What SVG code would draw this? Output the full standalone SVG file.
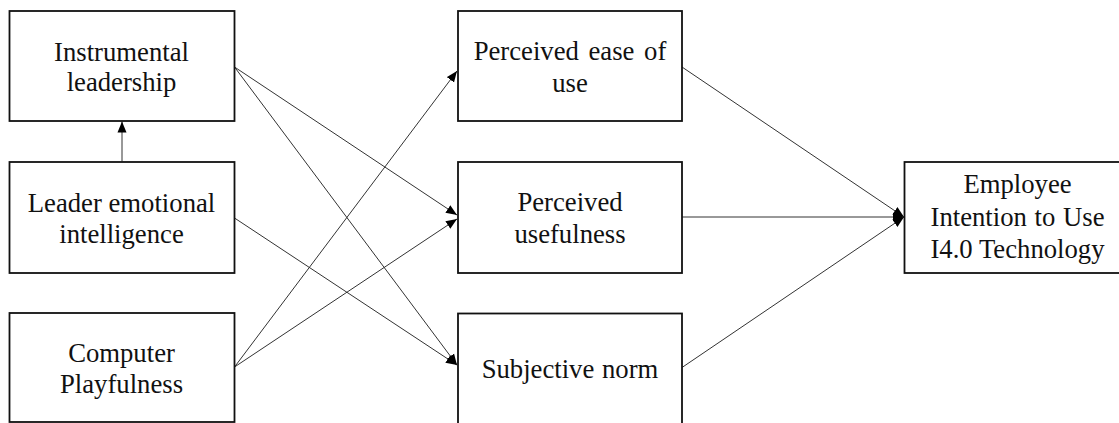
<svg xmlns="http://www.w3.org/2000/svg" width="1119" height="423" viewBox="0 0 1119 423">
<style>
.box{fill:#fff;stroke:#111;stroke-width:1.8}
.lbl{font-family:"Liberation Serif","Times New Roman",serif;font-size:26.7px;fill:#111;text-anchor:middle}
.edge{stroke:#333;stroke-width:1;fill:none;marker-end:url(#ah)}
</style>
<defs>
<marker id="ah" markerUnits="userSpaceOnUse" markerWidth="12" markerHeight="10" refX="11" refY="5" orient="auto">
<path d="M0,0.5 L11,5 L0,9.5 Z" fill="#000"/>
</marker>
</defs>
<rect width="1119" height="423" fill="#fff"/>
<g id="connectors">
<line class="edge" x1="122" y1="161.5" x2="122" y2="121.5"/>
<line class="edge" x1="234.5" y1="67" x2="457" y2="215"/>
<line class="edge" x1="234.5" y1="67" x2="457" y2="365"/>
<line class="edge" x1="234.5" y1="218" x2="457" y2="365"/>
<line class="edge" x1="234.5" y1="367" x2="457" y2="71"/>
<line class="edge" x1="234.5" y1="367" x2="457" y2="219"/>
<line class="edge" x1="682" y1="67" x2="904" y2="217"/>
<line class="edge" x1="682" y1="217" x2="904" y2="217"/>
<line class="edge" x1="682" y1="367.5" x2="904" y2="217"/>
</g>
<g id="n_il">
<rect class="box" x="9.5" y="11" width="225" height="110"/>
<text class="lbl" x="121.5" y="61">Instrumental</text>
<text class="lbl" x="121.5" y="91">leadership</text>
</g>
<g id="n_lei">
<rect class="box" x="9.5" y="162" width="225" height="111"/>
<text class="lbl" x="121.5" y="212">Leader emotional</text>
<text class="lbl" x="121.5" y="243">intelligence</text>
</g>
<g id="n_cp">
<rect class="box" x="9.5" y="313" width="225" height="109"/>
<text class="lbl" x="121.5" y="362">Computer</text>
<text class="lbl" x="121.5" y="393">Playfulness</text>
</g>
<g id="n_peou">
<rect class="box" x="458" y="11" width="224" height="110"/>
<text class="lbl" x="570" y="60" word-spacing="3">Perceived ease of</text>
<text class="lbl" x="570" y="91.5">use</text>
</g>
<g id="n_pu">
<rect class="box" x="458" y="162" width="224" height="111"/>
<text class="lbl" x="570" y="211">Perceived</text>
<text class="lbl" x="570" y="243">usefulness</text>
</g>
<g id="n_sn">
<rect class="box" x="458" y="313.5" width="224" height="120"/>
<text class="lbl" x="570" y="378" word-spacing="1">Subjective norm</text>
</g>
<g id="n_emp">
<rect class="box" x="904.5" y="162" width="227" height="111"/>
<text class="lbl" x="1017.5" y="193">Employee</text>
<text class="lbl" x="1017.5" y="226" word-spacing="1">Intention to Use</text>
<text class="lbl" x="1017.5" y="258">I4.0 Technology</text>
</g>
</svg>
